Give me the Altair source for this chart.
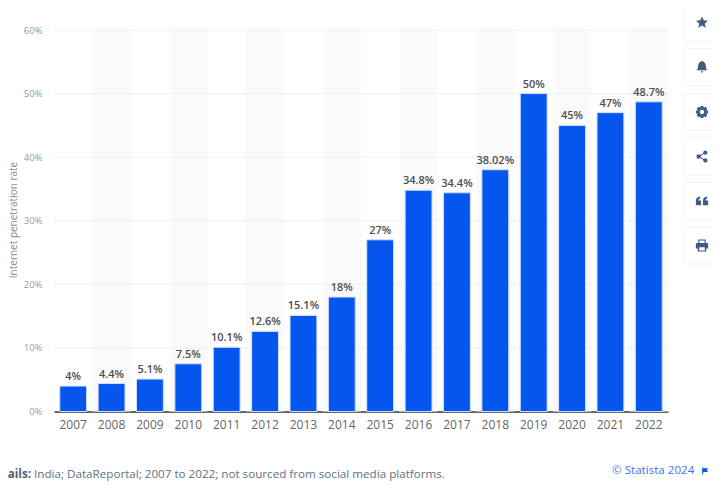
import altair as alt
import pandas as pd

years = [str(y) for y in range(2007, 2023)]
values = [4, 4.4, 5.1, 7.5, 10.1, 12.6, 15.1, 18, 27, 34.8, 34.4, 38.02, 50, 45, 47, 48.7]
labels = ["4%", "4.4%", "5.1%", "7.5%", "10.1%", "12.6%", "15.1%", "18%", "27%", "34.8%",
          "34.4%", "38.02%", "50%", "45%", "47%", "48.7%"]
band_years = years[1::2]
grid_values = [10, 20, 30, 40, 50, 60]
icon_names = ["star", "bell", "gear", "share", "quote", "print"]
icon_centers = [22.5, 67, 112, 156.5, 201, 245.5]

FONT = "Open Sans"
W, H = 614, 381.5
LEFT, TOP = 46, 22
OX, OY = 8 + LEFT, 8 + TOP  # page position of the plot origin

df = pd.DataFrame({"year": years, "value": values, "label": labels})
bands = pd.DataFrame({"year": band_years, "value": [60] * len(band_years)})
grid = pd.DataFrame({"value": grid_values})

x = alt.X("year:N", sort=years, title=None,
          scale=alt.Scale(paddingInner=0.3, paddingOuter=0.15),
          axis=alt.Axis(labelAngle=0, labelFont=FONT, labelFontSize=12, labelColor="#666666",
                        labelPadding=8, ticks=False, domain=True, domainColor="#666666",
                        domainWidth=2, grid=False, bandPosition=0.5))
y = alt.Y("value:Q", title=None, scale=alt.Scale(domain=[0, 60]),
          axis=alt.Axis(values=[0, 10, 20, 30, 40, 50, 60], labelExpr="datum.value + '%'",
                        labelFont=FONT, labelFontSize=9.5, labelColor="#999999", labelPadding=12,
                        ticks=False, domain=False, grid=False))

band_layer = alt.Chart(bands).mark_bar(size=W / 16, color="#fafafa").encode(x=x, y=y)
grid_layer = alt.Chart(grid).mark_rule(color="#e2e2e2", strokeDash=[1, 1], strokeWidth=1).encode(y=y)
bar_layer = alt.Chart(df).mark_bar(color="#0556ee", stroke="#cfe0fd", strokeWidth=1).encode(x=x, y=y)
label_layer = alt.Chart(df).mark_text(
    baseline="bottom", dy=-4, font=FONT, fontSize=11, fontWeight=600, color="#4d4d4d"
).encode(x=x, y=y, text="label:N")


def note(text, px, py, **kw):
    return alt.Chart(pd.DataFrame({"t": [text]})).mark_text(font=FONT, **kw).encode(
        x=alt.value(px - OX), y=alt.value(py - OY), text="t:N")


y_title = note("Internet penetration rate", 14, 220, fontSize=10, angle=270, color="#8c8c8c")
details = note("Details:", 31, 475, fontSize=11.65, fontWeight=700, align="right", color="#4f5f73")
source = note("India; DataReportal; 2007 to 2022; not sourced from social media platforms.",
              34, 475, fontSize=11.65, align="left", color="#5f6f85")
credit = note("© Statista 2024", 612, 471, fontSize=11.6, align="left", color="#3f74f0")

paths = {
    "star": "M0,-1 L0.29,-0.36 L0.97,-0.3 L0.46,0.16 L0.61,0.85 L0,0.48 L-0.61,0.85 L-0.46,0.16 L-0.97,-0.3 L-0.29,-0.36 Z",
    "bell": "M0,-1 C0.45,-0.9 0.65,-0.5 0.65,-0.1 C0.65,0.25 0.8,0.4 0.9,0.55 L-0.9,0.55 C-0.8,0.4 -0.65,0.25 -0.65,-0.1 C-0.65,-0.5 -0.45,-0.9 0,-1 Z M-0.25,0.7 L0.25,0.7 L0,1 Z",
    "gear": "M-0.2,-1 L0.2,-1 L0.28,-0.72 L0.55,-0.85 L0.85,-0.55 L0.72,-0.28 L1,-0.2 L1,0.2 L0.72,0.28 L0.85,0.55 L0.55,0.85 L0.28,0.72 L0.2,1 L-0.2,1 L-0.28,0.72 L-0.55,0.85 L-0.85,0.55 L-0.72,0.28 L-1,0.2 L-1,-0.2 L-0.72,-0.28 L-0.85,-0.55 L-0.55,-0.85 L-0.28,-0.72 Z M0,-0.35 A0.35,0.35 0 1,0 0,0.35 A0.35,0.35 0 1,0 0,-0.35 Z",
    "share": "M0.55,-1 A0.35,0.35 0 1,1 0.55,-0.3 A0.35,0.35 0 1,1 0.55,-1 Z M0.55,0.3 A0.35,0.35 0 1,1 0.55,1 A0.35,0.35 0 1,1 0.55,0.3 Z M-0.55,-0.35 A0.35,0.35 0 1,1 -0.55,0.35 A0.35,0.35 0 1,1 -0.55,-0.35 Z M-0.5,-0.12 L0.5,-0.72 L0.58,-0.58 L-0.42,0.02 Z M-0.42,-0.02 L0.58,0.58 L0.5,0.72 L-0.5,0.12 Z",
    "quote": "M-1,0.7 L-1,-0.05 C-1,-0.45 -0.75,-0.7 -0.3,-0.75 L-0.3,-0.4 C-0.5,-0.35 -0.55,-0.25 -0.55,-0.1 L-0.15,-0.1 L-0.15,0.7 Z M0.15,0.7 L0.15,-0.05 C0.15,-0.45 0.4,-0.7 0.85,-0.75 L0.85,-0.4 C0.65,-0.35 0.6,-0.25 0.6,-0.1 L1,-0.1 L1,0.7 Z",
    "print": "M-0.6,-1 L0.6,-1 L0.6,-0.4 L1,-0.4 Q1,-0.4 1,-0.3 L1,0.5 L0.7,0.5 L0.7,1 L-0.7,1 L-0.7,0.5 L-1,0.5 L-1,-0.3 Q-1,-0.4 -0.9,-0.4 L-0.6,-0.4 Z M-0.42,-0.82 L-0.42,-0.4 L0.42,-0.4 L0.42,-0.82 Z M-0.45,0.3 L-0.45,0.8 L0.45,0.8 L0.45,0.3 Z",
}
layers = []
for name, cy in zip(icon_names, icon_centers):
    one = pd.DataFrame({"name": [name]})
    layers.append(alt.Chart(one).mark_rect(color="#ffffff", cornerRadius=4, stroke="#f0f2f6",
                                           strokeWidth=1).encode(
        x=alt.value(684 - OX), x2=alt.value(720 - OX),
        y=alt.value(cy - 18.5 - OY), y2=alt.value(cy + 18.5 - OY)))
    layers.append(alt.Chart(one).mark_point(shape=paths[name], filled=True, opacity=1,
                                            color="#3f5c85", size=150, clip=False).encode(
        x=alt.value(702 - OX), y=alt.value(cy - OY)))

flag = alt.Chart(pd.DataFrame({"n": ["flag"]})).mark_point(
    shape="M-0.8,-1 L-0.5,-1 L-0.5,-0.8 L0.9,-0.8 L0.5,-0.3 L0.9,0.3 L-0.5,0.3 L-0.5,1 L-0.8,1 Z",
    filled=True, opacity=1, color="#0556ee", size=50).encode(
    x=alt.value(705 - OX), y=alt.value(471 - OY))

chart = alt.layer(
    band_layer, grid_layer, bar_layer, label_layer, y_title, details, source, credit, flag, *layers
).properties(
    width=W, height=H,
    background="#ffffff",
    autosize=alt.AutoSizeParams(type="none"),
    padding={"left": LEFT, "top": TOP, "right": 46, "bottom": 70},
).configure_view(stroke=None)

chart.save("out.html", embed_options={"renderer": "svg", "actions": False})
